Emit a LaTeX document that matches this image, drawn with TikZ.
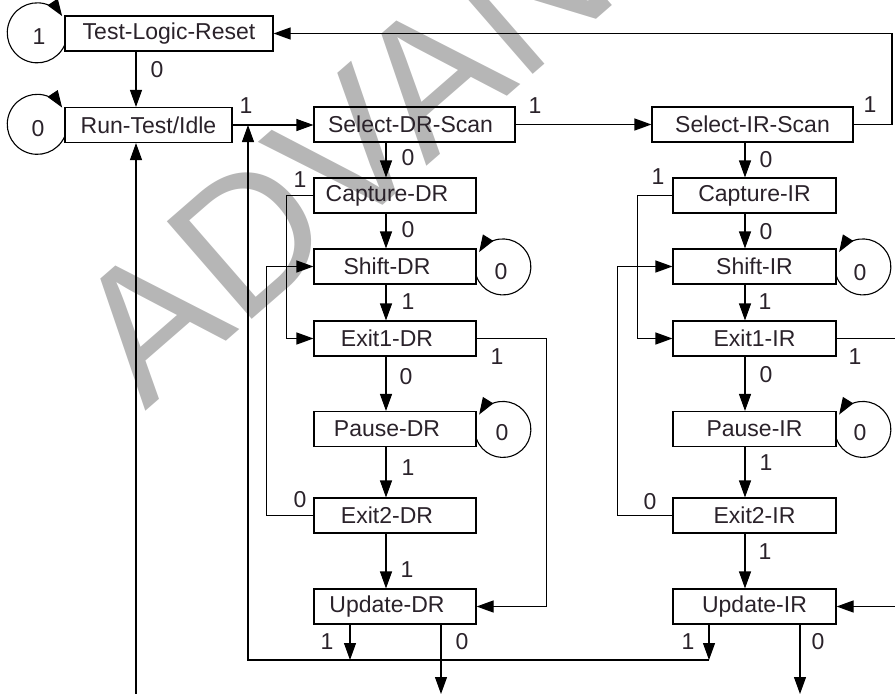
\documentclass[tikz,border=0pt]{standalone}
\usepackage{fontspec}
\setmainfont{Liberation Sans}
\usetikzlibrary{arrows.meta}
\definecolor{txtc}{RGB}{42,34,42}
\definecolor{wmark}{RGB}{182,182,182}

\begin{document}
\begin{tikzpicture}[x=1pt, y=-1pt, line width=1.1pt, >={Triangle[length=17pt,width=12pt]},
  state/.style={draw, inner sep=0pt, minimum height=35pt, text=txtc, font=\fontsize{23}{26}\selectfont},
  dstate/.style={state, minimum width=162pt, execute at begin node={\hspace*{-16pt}}},
  istate/.style={state, minimum width=163pt},
  lbl/.style={inner sep=0pt, text=txtc, font=\fontsize{23}{26}\selectfont}] % TAP controller
\useasboundingbox (0,0) rectangle (895,694);
% watermark behind everything
\begin{scope}
\clip (0,0) rectangle (895,694);
\node[text=wmark, rotate=41, inner sep=0pt, font=\fontsize{188}{188}\selectfont] (wm) at (441,69) {ADVANCE};
\end{scope}
% states
\node[state, minimum width=208pt] (tlr) at (169,33.5) {Test-Logic-Reset};
\node[state, minimum width=167pt] (rti) at (148.5,125) {Run-Test/Idle};
\node[state, minimum width=201pt, execute at begin node={\hspace*{-8pt}}] (sds) at (414.5,124.5) {Select-DR-Scan};
\node[state, minimum width=201pt] (sis) at (752.5,124.5) {Select-IR-Scan};
\node[dstate] (cdr) at (395,195.5) {Capture-DR};
\node[dstate] (shdr) at (395,266.5) {Shift-DR};
\node[dstate] (e1dr) at (395,338.5) {Exit1-DR};
\node[dstate] (pdr) at (395,429) {Pause-DR};
\node[dstate] (e2dr) at (395,515.5) {Exit2-DR};
\node[dstate] (udr) at (395,606.5) {Update-DR};
\node[istate] (cir) at (754.5,195.5) {Capture-IR};
\node[istate] (shir) at (754.5,266.5) {Shift-IR};
\node[istate] (e1ir) at (754.5,338.5) {Exit1-IR};
\node[istate] (pir) at (754.5,429) {Pause-IR};
\node[istate] (e2ir) at (754.5,515.5) {Exit2-IR};
\node[istate] (uir) at (754.5,606.5) {Update-IR};
% helper points
\coordinate (rcol) at (136,0);
\coordinate (dcol) at (386,0);
\coordinate (icol) at (745,0);
\coordinate (ret) at (248,0);
\coordinate (bot) at (0,660);
\coordinate (edge) at (895,694);
\coordinate (rtop) at (892,0);
\coordinate (dout1) at (350,0);
\coordinate (dout0) at (441,0);
\coordinate (iout1) at (709,0);
\coordinate (iout0) at (800,0);
% top rows
\draw[->] (tlr.south -| rcol) -- (rti.north -| rcol);
\draw[->] (rti.east) -- (rti.east -| sds.west);
\draw[->] (sds.east) -- (sds.east -| sis.west);
\draw[->] (sis.east) -| (rtop |- tlr.east) -- (tlr.east);
\draw[->] (rcol |- edge) -- (rti.south -| rcol);
% columns
\foreach \a/\b in {sds/cdr, cdr/shdr, shdr/e1dr, e1dr/pdr, pdr/e2dr, e2dr/udr}
  \draw[->] (\a.south -| dcol) -- (\b.north -| dcol);
\foreach \a/\b in {sis/cir, cir/shir, shir/e1ir, e1ir/pir, pir/e2ir, e2ir/uir}
  \draw[->] (\a.south -| icol) -- (\b.north -| icol);
% side paths
\draw[->] (cdr.west) -- ++(-27,0) |- (e1dr.west);
\draw[->] (e2dr.west) -- ++(-47,0) |- (shdr.west);
\draw[->] (e1dr.east) -- ++(70,0) |- (udr.east);
\draw[->] (cir.west) -- ++(-35,0) |- (e1ir.west);
\draw[->] (e2ir.west) -- ++(-55,0) |- (shir.west);
\draw (e1ir.east) -- (e1ir.east -| edge);
\draw[->] (uir.east -| edge) -- (uir.east);
% update exits
\draw[->] (udr.south -| dout1) -- (dout1 |- bot);
\draw[->] (udr.south -| dout0) -- (dout0 |- edge);
\draw[->] (uir.south -| iout1) -- (iout1 |- bot);
\draw[->] (uir.south -| iout0) -- (iout0 |- edge);
\draw[->] (iout1 |- bot) -| (ret |- rti.east);
% self loops
\foreach \s in {tlr, rti}
  \draw[->] ([yshift=-12pt]\s.west) arc[start angle=25, end angle=326, radius=30];
\foreach \s in {shdr, pdr, shir, pir}
  \draw[->] ([yshift=-10pt]\s.east) arc[start angle=160, end angle=-148, radius=28];
% transition labels
\foreach \p/\t [count=\i] in {(39,37)/1, (38,129)/0, (157,70)/0, (246,106)/1, (535,106)/1, (870,105)/1,
  (408,158)/0, (408,230)/0, (408,302)/1, (406,377)/0, (408,468)/1, (407,570)/1,
  (300,180)/1, (300,500)/0, (497,357)/1, (501,272)/0, (502,433)/0, (327,642)/1, (462,642)/0,
  (766,160)/0, (766,232)/0, (765,302)/1, (766,375)/0, (766,463)/1, (765,552)/1,
  (658,177)/1, (650,502)/0, (855,357)/1, (860,273)/0, (860,433)/0, (688,642)/1, (818,642)/0}
  \node[lbl] (lab\i) at \p {\t};
\end{tikzpicture}
\end{document}
